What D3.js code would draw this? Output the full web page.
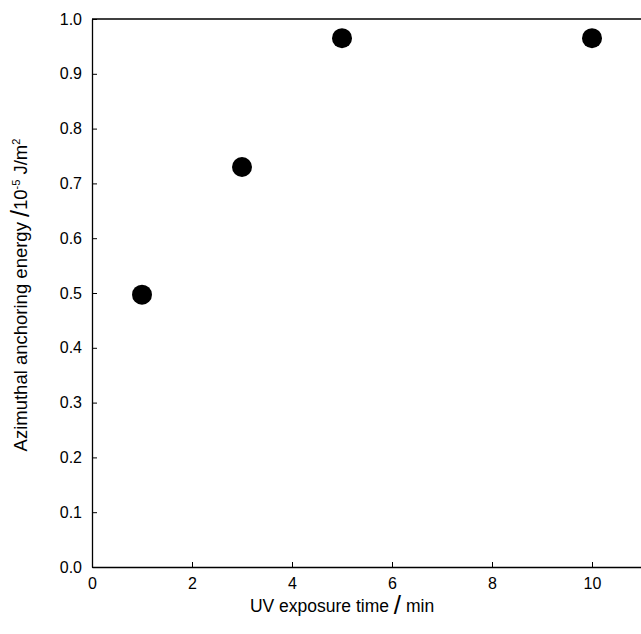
<!DOCTYPE html>
<html>
<head>
<meta charset="utf-8">
<script src="https://cdn.jsdelivr.net/npm/d3@7"></script>
<style>
  body { margin: 0; background: #fff; }
  svg { display: block; font-family: "Liberation Sans", Arial, sans-serif; }
</style>
</head>
<body>
<svg id="chart" width="641" height="634"></svg>
<script>
// UV exposure time (min) and azimuthal anchoring energy (10^-5 J/m^2)
const exposureTimes = [1, 3, 5, 10];
const anchoringEnergy = [0.497, 0.73, 0.965, 0.965];
const xTicks = [0, 2, 4, 6, 8, 10];
const yTicks = [0, 0.1, 0.2, 0.3, 0.4, 0.5, 0.6, 0.7, 0.8, 0.9, 1.0];

const svg = d3.select("#chart");
const plotLeft = 92, plotTop = 19, plotBottom = 567, plotRight = 642;

const x = d3.scaleLinear().domain([0, 11]).range([plotLeft, plotRight]);
const y = d3.scaleLinear().domain([0, 1]).range([plotBottom, plotTop]);

// top frame line
svg.append("line").attr("x1", plotLeft).attr("x2", plotRight).attr("y1", plotTop).attr("y2", plotTop)
  .attr("stroke", "#000").attr("stroke-width", 1.3);

const xAxis = svg.append("g").attr("transform", `translate(0,${plotBottom})`)
  .call(d3.axisBottom(x).tickValues(xTicks).tickFormat(d3.format("d")).tickSizeInner(-5).tickSizeOuter(0).tickPadding(11));
const yAxis = svg.append("g").attr("transform", `translate(${plotLeft},0)`)
  .call(d3.axisLeft(y).tickValues(yTicks).tickFormat(d3.format(".1f")).tickSizeInner(-5).tickSizeOuter(0).tickPadding(10));

[xAxis, yAxis].forEach(g => {
  g.select(".domain").attr("stroke", "#000").attr("stroke-width", 1.3);
  g.selectAll(".tick line").attr("stroke", "#000").attr("stroke-width", 1);
  g.selectAll(".tick text").attr("fill", "#000").style("font-size", "16px");
});

// data points
svg.append("g").selectAll("circle")
  .data(exposureTimes.map((t, i) => ({ t, e: anchoringEnergy[i] })))
  .join("circle")
  .attr("cx", d => x(d.t))
  .attr("cy", d => y(d.e))
  .attr("r", 10)
  .attr("fill", "#000");

// x axis title
const xt = svg.append("text").attr("x", 342).attr("y", 612)
  .attr("text-anchor", "middle").style("font-size", "17.5px").attr("fill", "#000");
xt.append("tspan").text("UV exposure time ");
xt.append("tspan").text("/").style("font-size", "26px").attr("dy", 2);
xt.append("tspan").text(" min").attr("dy", -2);

// y axis title
const yt = svg.append("text")
  .attr("transform", `translate(27,${(plotTop + plotBottom) / 2 + 2}) rotate(-90)`)
  .attr("text-anchor", "middle").style("font-size", "18.5px").attr("fill", "#000");
yt.append("tspan").text("Azimuthal anchoring energy ");
yt.append("tspan").text("/").style("font-size", "25px").attr("dy", 2);
yt.append("tspan").text("10").attr("dy", -2);
yt.append("tspan").text("-5").style("font-size", "11px").attr("dy", -7);
yt.append("tspan").text(" J/m").attr("dy", 7);
yt.append("tspan").text("2").style("font-size", "11px").attr("dy", -7);
</script>
</body>
</html>
